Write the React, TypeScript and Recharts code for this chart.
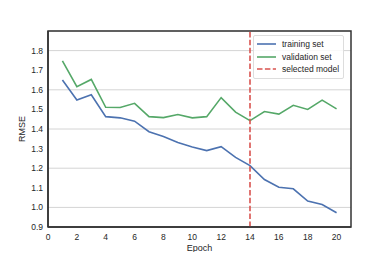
import {
  CartesianGrid,
  Label,
  Legend,
  Line,
  LineChart,
  ReferenceArea,
  ReferenceLine,
  XAxis,
  YAxis
} from "recharts";

const epochs = [1, 2, 3, 4, 5, 6, 7, 8, 9, 10, 11, 12, 13, 14, 15, 16, 17, 18, 19, 20];
const training = [
  1.65, 1.548, 1.575, 1.463, 1.457, 1.44, 1.386, 1.362, 1.331, 1.308,
  1.29, 1.31, 1.255, 1.213, 1.142, 1.103, 1.095, 1.032, 1.015, 0.973
];
const validation = [
  1.748, 1.616, 1.653, 1.511, 1.51, 1.531, 1.463, 1.458, 1.474, 1.457,
  1.463, 1.56, 1.486, 1.443, 1.489, 1.476, 1.521, 1.5, 1.547, 1.503
];
const selectedEpoch = 14;
const xTicks = [0, 2, 4, 6, 8, 10, 12, 14, 16, 18, 20];
const yTicks = [0.9, 1.0, 1.1, 1.2, 1.3, 1.4, 1.5, 1.6, 1.7, 1.8];
const legendLabels = ["training set", "validation set", "selected model"];

const BLUE = "#4c72b0";
const GREEN = "#55a868";
const RED = "#d9534f";
const FONT = "'Liberation Sans', Arial, sans-serif";

const data = epochs.map((epoch, i) => ({
  epoch,
  training: training[i],
  validation: validation[i]
}));

const legendColors = [BLUE, GREEN, RED];

const LegendBox = () => (
  <div
    style={{
      border: "1px solid #dddddd",
      borderRadius: 2,
      background: "rgba(255,255,255,0.85)",
      padding: "2px 4px 2px 3px",
      fontFamily: FONT,
      fontSize: 8.5,
      color: "#262626",
      lineHeight: "12.5px",
      whiteSpace: "nowrap"
    }}
  >
    {legendLabels.map((label, i) => (
      <div key={label} style={{ display: "flex", alignItems: "center" }}>
        <svg width={19} height={6} style={{ marginRight: 6 }}>
          <line
            x1={0}
            x2={19}
            y1={3}
            y2={3}
            stroke={legendColors[i]}
            strokeWidth={1.6}
            strokeDasharray={i === 2 ? "5.5 2.4" : undefined}
          />
        </svg>
        {label}
      </div>
    ))}
  </div>
);

export default function App() {
  return (
    <div style={{ margin: -8, width: 390, height: 260, background: "#fff" }}>
      <LineChart
        width={390}
        height={260}
        data={data}
        margin={{ top: 31, right: 39, bottom: 0, left: 0 }}
        style={{ fontFamily: FONT }}
      >
        <CartesianGrid vertical={false} stroke="#d4d4d4" strokeWidth={1} />
        <XAxis
          dataKey="epoch"
          type="number"
          domain={[0, 21]}
          ticks={xTicks}
          height={33}
          tickLine={false}
          tickSize={0}
          tickMargin={7}
          axisLine={{ stroke: "#333", strokeWidth: 1.5 }}
          tick={{ fontSize: 8.5, fill: "#262626" }}
        >
          <Label value="Epoch" position="center" dy={4} style={{ fontSize: 9, fill: "#262626" }} />
        </XAxis>
        <YAxis
          type="number"
          domain={[0.9, 1.9]}
          ticks={yTicks}
          width={48}
          tickLine={false}
          tickSize={0}
          tickMargin={5}
          tickFormatter={(v: number) => v.toFixed(1)}
          axisLine={{ stroke: "#333", strokeWidth: 1.5 }}
          tick={{ fontSize: 8.5, fill: "#262626" }}
        >
          <Label
            value="RMSE"
            position="center"
            angle={-90}
            dx={-2}
            style={{ fontSize: 9, fill: "#262626", textAnchor: "middle" }}
          />
        </YAxis>
        <ReferenceArea
          x1={0}
          x2={21}
          y1={0.9}
          y2={1.9}
          fill="none"
          stroke="#333"
          strokeWidth={1.5}
        />
        <Line
          dataKey="training"
          stroke={BLUE}
          strokeWidth={1.6}
          dot={false}
          isAnimationActive={false}
        />
        <Line
          dataKey="validation"
          stroke={GREEN}
          strokeWidth={1.6}
          dot={false}
          isAnimationActive={false}
        />
        <ReferenceLine
          x={selectedEpoch}
          stroke={RED}
          strokeWidth={1.6}
          strokeDasharray="5.5 2.4"
        />
        <Legend
          layout="horizontal"
          align="center"
          verticalAlign="middle"
          content={() => <LegendBox />}
          wrapperStyle={{ top: 35, left: 253, width: "auto" }}
        />
      </LineChart>
    </div>
  );
}
